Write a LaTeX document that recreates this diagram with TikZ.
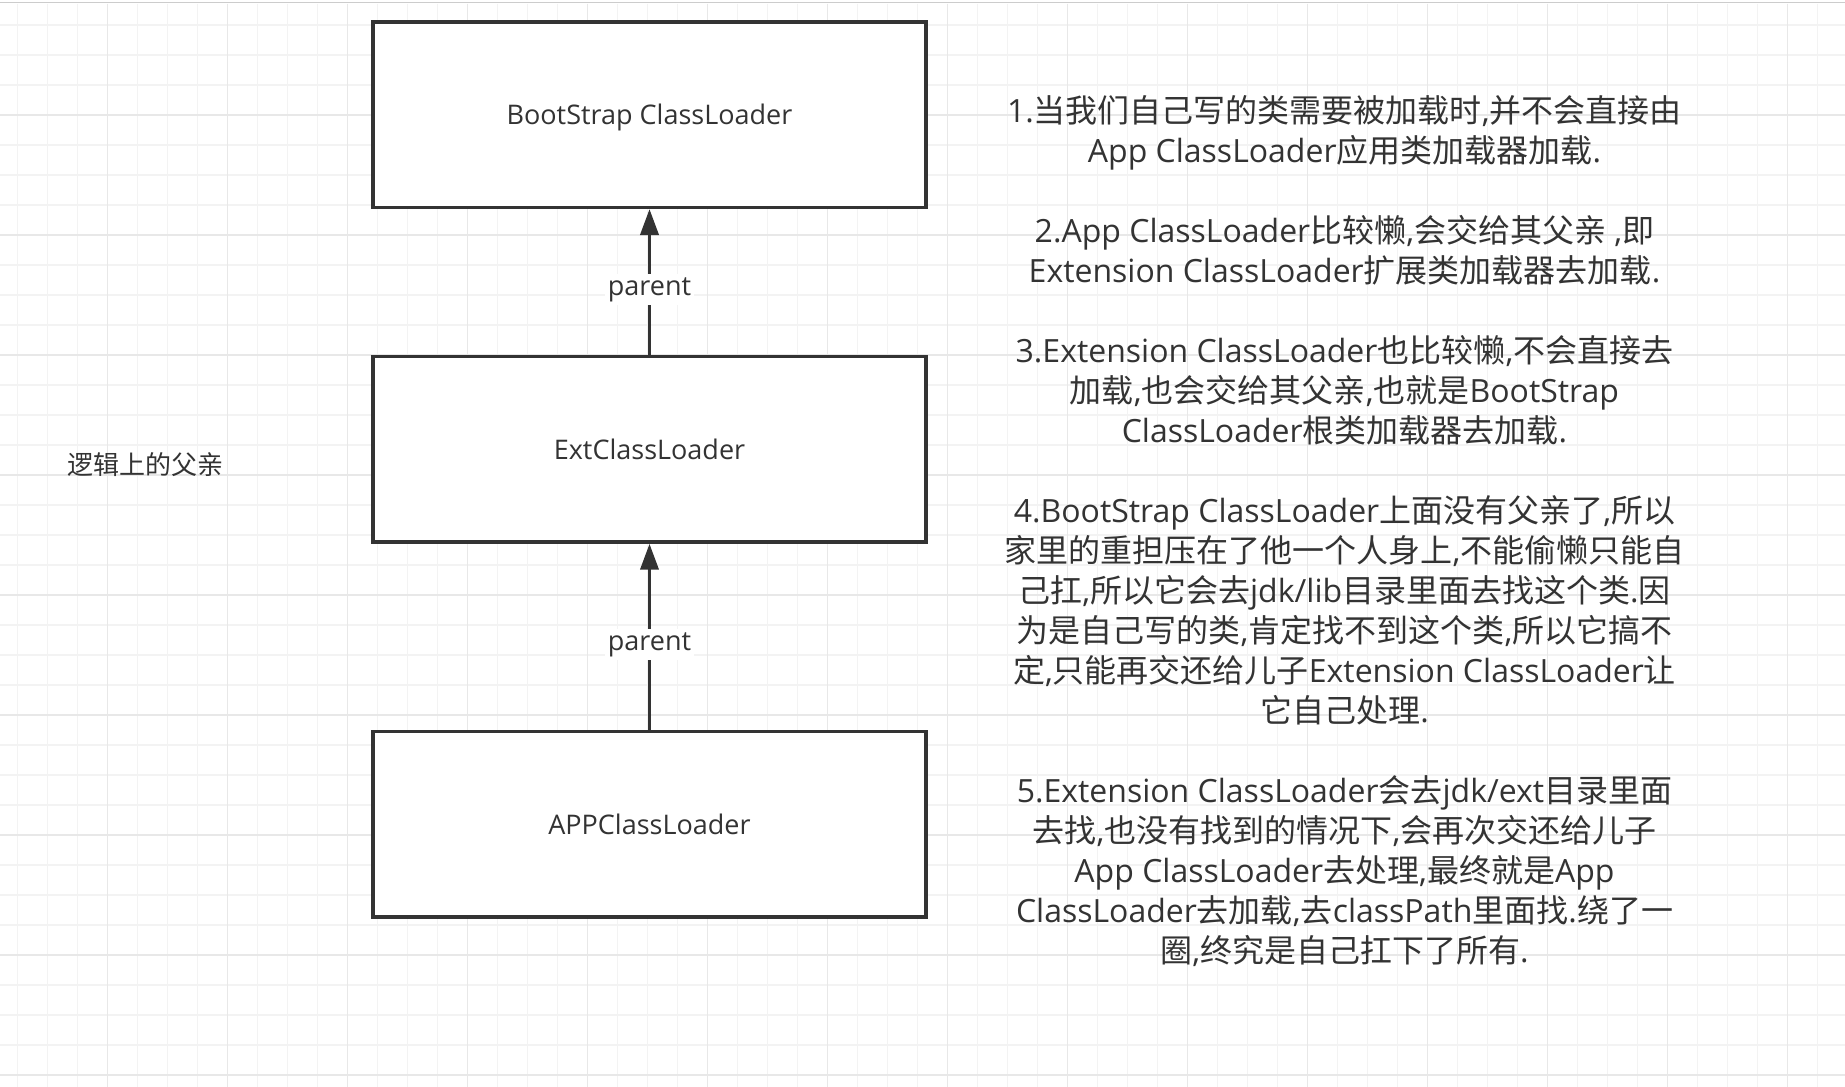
\documentclass[tikz,border=0pt]{standalone}
\usepackage{fontspec}
\setmainfont{Open Sans}
\newfontfamily\cjk{Noto Sans CJK SC}
\newfontfamily\lat{Open Sans}
\usetikzlibrary{arrows.meta}
\XeTeXinterchartokenstate=1
\newXeTeXintercharclass\CJKcls
\count255="2E80
\loop\ifnum\count255<"A000 \XeTeXcharclass\count255=\CJKcls \advance\count255 by 1 \repeat
\XeTeXinterchartoks 0 \CJKcls = {\cjk}
\XeTeXinterchartoks 4095 \CJKcls = {\cjk}
\XeTeXinterchartoks \CJKcls 0 = {\lat}
\XeTeXinterchartoks \CJKcls 4095 = {\lat}
\definecolor{ink}{HTML}{333333}
\definecolor{gridminor}{HTML}{F3F3F3}
\definecolor{gridmajor}{HTML}{E8E8E8}
\definecolor{topline}{HTML}{CCCCCC}
\begin{document}
\begin{tikzpicture}[x=1pt,y=-1pt,
  loader/.style={draw=ink, line width=3.5pt, fill=white, minimum width=553pt, minimum height=185.5pt, inner sep=0pt, text=ink, text height=20.5pt, text depth=0pt, font=\fontsize{27}{32}\selectfont},
  parentarrow/.style={draw=ink, line width=3.8pt, -{Triangle[length=26pt,width=18pt]}},
  edgelabel/.style={fill=white, text=ink, inner sep=2.5pt, yshift=-7.5pt, text height=19pt, text depth=7pt, font=\fontsize{27}{32}\selectfont},
  note/.style={text=ink, align=center, font=\fontsize{32}{40}\selectfont, inner sep=0pt},
  sidenote/.style={text=ink, font=\fontsize{26}{30}\selectfont, inner sep=0pt},
  gridthin/.style={draw=gridminor, line width=1.5pt},
  gridthick/.style={draw=gridmajor, line width=1.5pt}]
\useasboundingbox (0,0) rectangle (1845,1087);
\fill[white] (0,0) rectangle (1845,1087);
% grid
\foreach \k in {0,...,60} { \draw[gridthin] ({17.7+30*\k},3.5) -- ({17.7+30*\k},1087); }
\foreach \k in {0,...,35} { \draw[gridthin] (0,{25+30*\k}) -- (1845,{25+30*\k}); }
\foreach \k in {0,...,14} { \draw[gridthick] ({107.7+120*\k},3.5) -- ({107.7+120*\k},1087); }
\foreach \k in {0,...,8} { \draw[gridthick] (0,{115+120*\k}) -- (1845,{115+120*\k}); }
\draw[draw=topline, line width=1.5pt] (0,2.7) -- (1845,2.7);
% loaders
\node[loader] (boot) at (649.5,114.5) {BootStrap ClassLoader};
\node[loader] (ext) at (649.5,449.2) {ExtClassLoader};
\node[loader] (app) at (649.5,824.3) {APPClassLoader};
\draw[parentarrow] (ext.north) -- (boot.south) node[edgelabel, midway] {parent};
\draw[parentarrow] (app.north) -- (ext.south) node[edgelabel, midway] {parent};
% side label
\node[sidenote] (logic) at (145.5,465) {逻辑上的父亲};
% explanation
\node[note] (steps) at (1344.5,530.7) {1.当我们自己写的类需要被加载时,并不会直接由\\
App ClassLoader应用类加载器加载.\\[40pt]
2.App ClassLoader比较懒,会交给其父亲 ,即\\
Extension ClassLoader扩展类加载器去加载.\\[40pt]
3.Extension ClassLoader也比较懒,不会直接去\\
加载,也会交给其父亲,也就是BootStrap\\
ClassLoader根类加载器去加载.\\[40pt]
4.BootStrap ClassLoader上面没有父亲了,所以\\
家里的重担压在了他一个人身上,不能偷懒只能自\\
己扛,所以它会去jdk/lib目录里面去找这个类.因\\
为是自己写的类,肯定找不到这个类,所以它搞不\\
定,只能再交还给儿子Extension ClassLoader让\\
它自己处理.\\[40pt]
5.Extension ClassLoader会去jdk/ext目录里面\\
去找,也没有找到的情况下,会再次交还给儿子\\
App ClassLoader去处理,最终就是App\\
ClassLoader去加载,去classPath里面找.绕了一\\
圈,终究是自己扛下了所有.};
\end{tikzpicture}
\end{document}
